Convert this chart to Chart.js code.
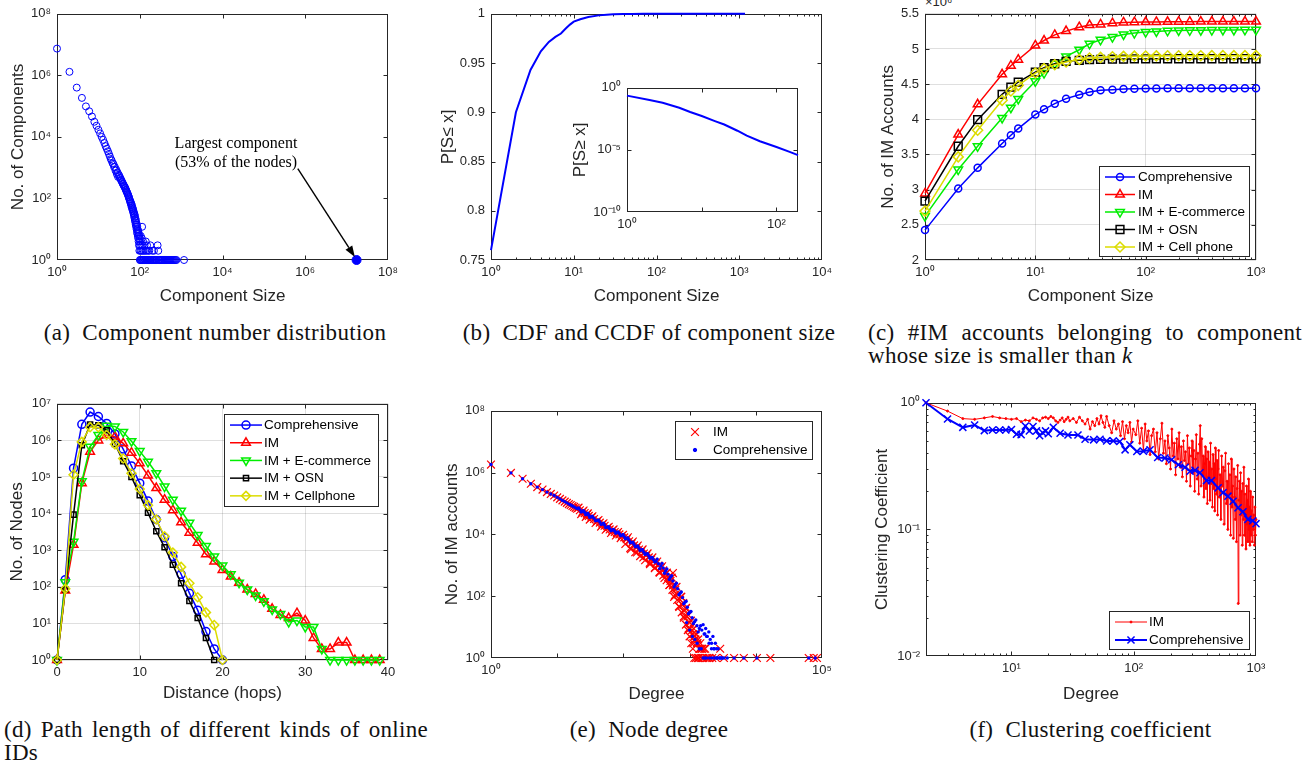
<!DOCTYPE html>
<html>
<head>
<meta charset="utf-8">
<title>Online ID network figure</title>
<script src="https://cdn.jsdelivr.net/npm/chart.js"></script>
<style>
html,body{margin:0;padding:0;background:#fff}
body{position:relative;width:1313px;height:768px;overflow:hidden;font-family:"Liberation Sans",Arial,sans-serif}
.pan{position:absolute}
.pan canvas{display:block}
.cap{position:absolute;font-family:"Liberation Serif","Times New Roman",serif;font-size:23px;line-height:23px;letter-spacing:0.3px;color:#111;white-space:nowrap}
.just{text-align:justify;text-align-last:justify;white-space:normal}
.mult{position:absolute;left:925px;top:-5px;font-size:13px;line-height:13px;color:#262626;font-family:"Liberation Sans",Arial,sans-serif}
</style>
</head>
<body>
<div class="cap" style="left:0;width:430px;top:321px;text-align:center">(a)&nbsp; Component number distribution</div>
<div class="cap" style="left:430px;width:438px;top:321px;text-align:center">(b)&nbsp; CDF and CCDF of component size</div>
<div class="cap just" style="left:868px;width:434px;top:321px">(c) #IM accounts belonging to component</div>
<div class="cap" style="left:868px;top:344px">whose size is smaller than <i>k</i></div>
<div class="cap just" style="left:4px;width:424px;top:718px">(d) Path length of different kinds of online</div>
<div class="cap" style="left:4px;top:741px">IDs</div>
<div class="cap" style="left:430px;width:438px;top:718px;text-align:center">(e)&nbsp; Node degree</div>
<div class="cap" style="left:868px;width:445px;top:718px;text-align:center">(f)&nbsp; Clustering coefficient</div>
<div class="mult">×10⁶</div>
<script>
// ---------- (a) component number distribution ----------
const compSizeA = [1,2,3,4,5,6,7,8,9,10,11,12,13,14,15,16,17,18,19,20,21,22,23,24,25,26,27,28,29,30,31,32,33,34,35,36,37,38,39,40,41,42,43,44,45,46,47,48,49,50,51,52,53,54,55,56,57,58,59,60,61,62,63,64,65,66,67,68,69,70,71,72,73,74,75,76,77,78,79,80,81,82,83,84,85,86,87,88,89,90,91,92,93,94,95,96,97,98,99];
const compCountA = [7400000,1300000,400000,185000,98000,68000,46000,31000,23000,17000,
  13000,10000,8000,6300,5000,4100,3400,2800,2300,1900,
  1700,1400,1330,1050,1060,800,860,620,700,500,
  590,540,470,460,400,390,350,330,300,290,
  265,250,240,220,215,190,185,170,160,150,
  140,130,125,112,108,96,92,84,80,70,
  74,60,66,52,58,45,50,40,44,34,
  38,29,33,24,30,20,26,17,22,14,
  19,12,16,10,14,8,12,7,10,6,
  9,5,8,4,7,3,6,2,5];
const compSizeB = [100,102,104,106,108,110,112,114,116,118,120,125,130,135,140,145,150,160,170,180,200,220,270,280];
const compCountB = [3,4,2,6,3,2,5,12,3,2,4,2,3,2,4,2,3,2,2,3,2,2,3,2];
const compSizeC = [101,103,107,111,115,119,124,128,133,138,143,149,155,161,168,175,182,190,198,207,216,226,236,247,258,283,297,312,328,345,363,382,402,423,446,470,496,523,552,583,616,651,688,727,768,1175];
const compCountC = [1,1,1,1,1,1,1,1,1,1,1,1,1,1,1,1,1,1,1,1,1,1,1,1,1,1,1,1,1,1,1,1,1,1,1,1,1,1,1,1,1,1,1,1,1,1];
const largestSize = [17400000];
const largestCount = [1];
const annoText = ['Largest component', '(53% of the nodes)'];
const annoX = 21200, annoY = [5940, 1450];
const arrowFrom = [660000, 930], arrowTo = [15800000, 1.26];
const aTicks = [1, 1e2, 1e4, 1e6, 1e8];

// ---------- (b) CDF / CCDF ----------
const cdfSize = [1,2,3,4,5,6,7,8,9,10,12,15,20,25,30,40,50,70,100,200,500,1175];
const cdfValue = [0.760,0.900,0.943,0.962,0.9714,0.9765,0.980,0.985,0.989,0.992,0.9945,0.9967,0.9984,0.9991,0.9995,0.9998,0.9999,1,1,1,1,1];
const ccdfSize = [1,2,3,5,7,10,15,20,30,40,60,100,150,194];
const ccdfValue = [0.234,0.105,0.063,0.025,0.0112,0.0054,0.0021,0.0011,0.00035,0.00014,0.00005,0.000017,0.000007,0.0000038];
const bXTicks = [1,10,100,1000,10000];
const bYTicks = [0.75,0.8,0.85,0.9,0.95,1];
const insetXTicks = [1,100];
const insetYTicks = [1e-10,1e-5,1];

// ---------- (c) #IM accounts vs component size (x 10^6) ----------
const cSize = [1,2,3,5,6,7,10,12,15,19,25,31,39,50,63,79,100,125,158,199,251,316,398,501,630,794,1000];
const cComprehensive = [2.425,3.017,3.31,3.655,3.773,3.868,4.067,4.142,4.223,4.294,4.35,4.388,4.412,4.42,4.43,4.435,4.437,4.438,4.44,4.44,4.44,4.441,4.441,4.441,4.442,4.442,4.442];
const cIM = [2.946,3.783,4.213,4.639,4.762,4.847,5.05,5.12,5.2,5.254,5.31,5.34,5.349,5.367,5.377,5.38,5.382,5.384,5.386,5.388,5.388,5.389,5.389,5.39,5.39,5.39,5.39];
const cEcommerce = [2.624,3.286,3.617,4.019,4.166,4.289,4.54,4.658,4.79,4.894,4.989,5.074,5.131,5.169,5.207,5.226,5.24,5.249,5.259,5.263,5.265,5.267,5.268,5.27,5.271,5.272,5.273];
const cOSN = [2.837,3.617,3.995,4.355,4.459,4.53,4.672,4.734,4.79,4.824,4.838,4.847,4.852,4.855,4.857,4.858,4.859,4.86,4.86,4.861,4.861,4.861,4.861,4.861,4.861,4.861,4.861];
const cCellphone = [2.695,3.466,3.844,4.27,4.403,4.483,4.658,4.72,4.777,4.814,4.852,4.871,4.88,4.89,4.895,4.898,4.9,4.902,4.903,4.904,4.904,4.904,4.905,4.905,4.905,4.905,4.905];
const cXTicks = [1,10,100,1000];
const cYTicks = [2,2.5,3,3.5,4,4.5,5,5.5];

// ---------- (d) path length ----------
const dHopsComp = [0,1,2,3,4,5,6,7,8,9,10,11,12,13,14,15,16,17,18,19,20];
const dComprehensive = [1,157,174000,2750000,5960000,4500000,2900000,1500000,580000,200000,68000,22000,6900,2200,670,220,67,23,6,2,1];
const dHopsIM = [0,1,2,3,4,5,6,7,8,9,10,11,12,13,14,15,16,17,18,19,20,21,22,23,24,25,26,27,28,29,30,31,32,33,34,35,36,37,38,39];
const dIM = [1,79,1400,68000,490000,1000000,1380000,1260000,830000,460000,236000,110000,50000,24000,12400,5800,3000,1600,780,490,290,190,130,84,64,44,25,17,14,19,12,4,2,2,3,3,1,1,1,1];
const dEcommerce = [1,133,1700,76000,670000,1400000,2500000,2400000,1700000,950000,510000,260000,127000,55000,24000,12000,5600,2600,1300,670,380,220,130,84,58,40,24,18,11,12,8,8,2,1,1,1,1,1,1,1];
const dHopsOSN = [0,1,2,3,4,5,6,7,8,9,10,11,12,13,14,15,16,17,18,19];
const dOSN = [1,84,9400,740000,2700000,2600000,1900000,800000,270000,100000,32000,10500,3300,1200,400,125,41,14,4,1];
const dHopsCell = [0,1,2,3,4,5,6,7,8,9,10,11,12,13,14,15,16,17,18,19,20];
const dCellphone = [1,88,115000,910000,2300000,2300000,1400000,780000,320000,127000,47000,17000,6900,2400,860,350,125,52,20,9,1];
const dXTicks = [0,10,20,30,40];
const dYTicks = [1,10,100,1e3,1e4,1e5,1e6,1e7];

// ---------- (e) node degree ----------
const eDegIM = [1,2,3,4,5,6,7,8,9,10,11,12,13,14,15,16,17,18,19,20,22,24,26,28,30,33,36,40,44,48,52,57,62,68,74,80,87,95,103,112,
  122,133,145,158,172,187,204,222,242,263,286,311,338,368,400,435,473,514,559,608,661,719,782,850,924,1005,1093,1188,1292,1405,1530,
  130,160,200,250,300,350,400,450,500,550,600,650,700,760,820,880,940,1000,1060,1120,1180,1250,1330,1400,
  740,800,870,950,1040,1150,1250,1350,1450,1550,1650,1800,2000,2200,2500,2900,3300,4700,6600,10400,16600,63000,75000,84000,560];
const eCntIM = [1820000,977000,631000,437000,339000,282000,234000,204000,182000,158000,141000,126000,115000,105000,95500,89100,83200,77600,72400,67600,60300,53700,49000,43700,39800,35500,31600,26900,24000,20900,19100,16200,14500,13200,12000,11000,10000,9000,8000,7000,
  6000,5100,4400,3750,3250,2850,2400,2100,1800,1550,1330,1150,980,817,685,533,406,312,224,161,114,77,53,35,22,14,8,5,3,2,1,
  3300,2600,1800,1200,850,600,470,330,230,160,110,75,45,30,20,12,8,5,3,2,1,1,1,1,
  95,60,40,25,16,9,6,4,3,2,2,1,1,1,1,2,1,1,1,1,1,1,1,1,560];
const eDegIMExtra = [21,23,25,27,29,31,34,38,42,46,50,54,60,65,71,77,83,91,99,107,117,127,139,151,165,179,195,213,232,252,274,298,324,353,384,417,454,493,536,583,634,690,750,816,887,964,1048,1140,1240,1348,1467,
  1020,1120,1220,1320,1420,1520,1620,1720,1850,1950];
const eCntIMExtra = [73400,45500,59000,37000,48000,30100,38500,23300,29200,17900,23000,14100,17600,11100,14500,9200,12000,7600,9700,4900,8100,3600,5900,2640,4360,1980,3270,1460,2430,1090,1800,800,1330,580,935,390,580,230,400,95,200,47,96,22,42,9,16,3,6,1,2,
  9,6,4,3,2,2,1,2,1,1];
const eDegComp = [1,2,3,4,5,6,7,8,9,10,11,12,13,14,15,16,17,18,19,20,22,24,26,28,30,33,36,40,44,48,52,57,62,68,74,80,87,95,103,112,
  122,133,145,158,172,187,204,222,242,263,286,311,338,368,400,435,473,514,559,608,661,719,782,850,924,1005,1093,1188,1292,1405,
  1530,1660,1810,1970,2140,2330,2540,
  900,1000,1100,1200,1300,1400,1500,1600,1700,1800,2000,2200,2400,
  2600,2800,3000,3300,3700,4700,6600,10400,63000,79000];
const eCntComp = [1820000,977000,631000,437000,339000,282000,234000,204000,182000,158000,141000,126000,115000,105000,95500,89100,83200,77600,72400,69200,62500,56000,51000,45800,41700,37200,33100,28200,25100,21900,20000,17000,15200,13900,12600,11600,10500,9500,8500,7500,
  6450,5500,4750,4100,3550,3150,2650,2350,2000,1750,1500,1320,1130,960,820,660,520,410,310,235,175,125,90,64,44,30,20,15,11,9,
  8,6,5,3,2,2,1,
  14,8,5,4,3,2,2,1,1,1,1,1,1,
  1,1,1,1,1,1,1,1,1,1];
const eDegCompExtra = [21,23,25,27,29,31,34,38,42,46,50,54,60,65,71,77,83,91,99,107,117,127,139,151,165,179,195,213,232,252,274,298,324,353,384,417,454,493,536,583,634,690,750,816,887,964,1048,1140,1240,1348,1467,
  1600,1700,1750,1850,1950,2050,2150,2250,2350,2450,2550,2700,2900,3100];
const eCntCompExtra = [72300,53300,58800,43500,48100,35500,38600,27500,29300,21100,23000,16600,17700,13100,14500,10900,12100,9000,9900,7200,7650,5360,5620,3970,4200,3010,3180,2250,2390,1680,1780,1270,1590,780,1150,550,760,350,460,200,264,111,138,57,69,27,32,13,17,7,11,
  12,6,9,5,7,4,3,5,2,3,2,2,1,1];
const eXTicks = [1,10,100,1e3,1e4,1e5];
const eXLabelled = [1,1e5];
const eYTicks = [1,1e2,1e4,1e6,1e8];

// ---------- (f) clustering coefficient ----------
const fDegIM = [2,3,4,5,6,7,8,9,10,11, 12,13,14,15,16,17,18,19,20,21, 22,23,24,25,26,27,28,29,30,32,
  34,36,38,40,42,44,46,48,50,52, 54,56,58,60,63,66,69,72,75,78, 81,84,87,90,93,96,99,104,108,112,
  116,120,124,128,132,136,140,145,150,155, 160,165,170,175,180,185,190,195,200,205, 210,215,220,225,230,235,240,245,250,255,
  260,265,270,275,280,285,290,295,300,305, 310,315,320,325,330,335,340,345,350,355, 360,365,370,375,380,385,390,395,400,405,
  410,415,420,425,430,435,440,445,450,455, 460,465,470,475,480,485,490,495,500,508, 516,524,532,540,548,556,564,572,580,588,
  596,604,612,620,628,636,644,652,660,668, 676,684,692,700,708,716,724,732,740,748, 756,764,772,780,788,796,804,812,820,828,
  836,844,852,860,868,876,884,892,900,910, 920,930,940,950,960,970,980,990,1000];
const fCCIM = [1.0,0.86,0.75,0.74,0.76,0.78,0.76,0.75,0.74,0.75, 0.71,0.73,0.72,0.76,0.74,0.72,0.76,0.77,0.75,0.78, 0.76,0.72,0.70,0.73,0.76,0.71,0.74,0.77,0.72,0.75,
  0.70,0.77,0.72,0.68,0.74,0.62,0.71,0.66,0.75,0.68, 0.79,0.70,0.64,0.78,0.66,0.58,0.72,0.62,0.68,0.55, 0.71,0.52,0.66,0.58,0.70,0.49,0.62,0.56,0.72,0.48,
  0.63,0.42,0.68,0.50,0.60,0.39,0.55,0.62,0.41,0.58, 0.36,0.52,0.69,0.40,0.50,0.33,0.55,0.44,0.30,0.62, 0.38,0.48,0.27,0.52,0.36,0.58,0.31,0.45,0.26,0.50,
  0.35,0.41,0.24,0.55,0.33,0.44,0.22,0.38,0.50,0.28, 0.42,0.20,0.36,0.56,0.25,0.40,0.19,0.47,0.66,0.22, 0.52,0.27,0.38,0.18,0.33,0.45,0.21,0.36,0.16,0.41,
  0.26,0.34,0.17,0.48,0.23,0.30,0.15,0.39,0.21,0.33, 0.14,0.44,0.25,0.19,0.35,0.13,0.30,0.42,0.18,0.27, 0.12,0.38,0.22,0.31,0.11,0.29,0.40,0.16,0.24,0.10,
  0.33,0.19,0.27,0.09,0.36,0.15,0.22,0.085,0.30,0.18, 0.12,0.26,0.08,0.21,0.32,0.026,0.17,0.24,0.09,0.28, 0.13,0.20,0.075,0.23,0.12,0.31,0.09,0.19,0.14,0.07,
  0.22,0.11,0.17,0.08,0.25,0.10,0.15,0.075,0.20,0.09, 0.14,0.08,0.18,0.10,0.13,0.075,0.15,0.09,0.12];
const fDegComp = [2,3,4,5,6,7,8,9,10,11,12,13,14,15,16,17,18,19,20,22,25,29,35,40,47,53,60,68,77,85,93,106,120,136,157,180,204,232,263,289,317,348,394,432,490,538,590,650,713,782,858,941,1000];
const fCCComp = [1.0,0.745,0.64,0.668,0.603,0.61,0.61,0.61,0.615,0.565,0.56,0.655,0.6,0.65,0.6,0.55,0.58,0.6,0.57,0.64,0.575,0.557,0.557,0.515,0.51,0.515,0.5,0.5,0.495,0.425,0.466,0.413,0.415,0.425,0.37,0.366,0.355,0.324,0.31,0.288,0.293,0.28,0.243,0.243,0.213,0.195,0.183,0.167,0.148,0.138,0.12,0.117,0.111];
const fXTicks = [10,100,1000];
const fYTicks = [0.01,0.1,1];

// ================= rendering =================
const FONT = '"Liberation Sans", Arial, sans-serif';
const AX = '#262626';
const GRID = 'rgba(38,38,38,0.15)';
const BLUE = '#0000ff', RED = '#ff0000', GREEN = '#00ee00', BLACK = '#000000', YELLOW = '#dcdc00';
const CLEAR = 'rgba(0,0,0,0)';
const SUP = {'0':'⁰','1':'¹','2':'²','3':'³','4':'⁴','5':'⁵','6':'⁶','7':'⁷','8':'⁸','9':'⁹','-':'⁻'};
const pow10 = v => '10' + String(Math.round(Math.log10(v))).split('').map(c => SUP[c]).join('');
const zip = (xs, ys) => xs.map((x, i) => ({x: x, y: ys[i]}));
function logMinor(min, max) {
  const out = [];
  for (let e = Math.floor(Math.log10(min)); e <= Math.ceil(Math.log10(max)); e++) {
    for (let k = 2; k <= 9; k++) {
      const v = k * Math.pow(10, e);
      if (v >= min * 0.999 && v <= max * 1.001) out.push(v);
    }
  }
  return out;
}
const EXTRA = {};

function drawMarker(ctx, ds, x, y) {
  const H = Chart.helpers;
  ctx.save();
  ctx.strokeStyle = ds.pointBorderColor || ds.borderColor;
  ctx.fillStyle = ds.pointBackgroundColor || CLEAR;
  ctx.lineWidth = ds.pointBorderWidth || 1;
  if (H && H.drawPoint) {
    H.drawPoint(ctx, {pointStyle: ds.pointStyle || 'circle', rotation: ds.pointRotation || 0, radius: ds.pointRadius, borderWidth: ds.pointBorderWidth || 1}, x, y);
  } else {
    ctx.beginPath(); ctx.arc(x, y, ds.pointRadius, 0, Math.PI * 2); ctx.fill(); ctx.stroke();
  }
  ctx.restore();
}

const mAxes = {
  id: 'mAxes',
  beforeDraw(chart) {
    const ex = EXTRA[chart.canvas.id]; if (!ex || !ex.fill) return;
    const a = chart.chartArea, ctx = chart.ctx;
    ctx.save(); ctx.fillStyle = '#fff'; ctx.fillRect(a.left, a.top, a.right - a.left, a.bottom - a.top); ctx.restore();
  },
  beforeDatasetsDraw(chart) {
    const ex = EXTRA[chart.canvas.id]; if (!ex) return;
    const a = chart.chartArea, ctx = chart.ctx, xs = chart.scales.x, ys = chart.scales.y;
    const L = Math.round(a.left) + 0.5, R = Math.round(a.right) - 0.5, T = Math.round(a.top) + 0.5, B = Math.round(a.bottom) - 0.5;
    ctx.save();
    ctx.strokeStyle = AX; ctx.lineWidth = 1;
    ctx.strokeRect(L, T, R - L, B - T);
    const tx = (vals, len) => (vals || []).forEach(v => {
      const p = Math.round(xs.getPixelForValue(v)) + 0.5;
      if (p < L - 0.6 || p > R + 0.6) return;
      ctx.beginPath(); ctx.moveTo(p, B); ctx.lineTo(p, B - len); ctx.moveTo(p, T); ctx.lineTo(p, T + len); ctx.stroke();
    });
    const ty = (vals, len) => (vals || []).forEach(v => {
      const p = Math.round(ys.getPixelForValue(v)) + 0.5;
      if (p < T - 0.6 || p > B + 0.6) return;
      ctx.beginPath(); ctx.moveTo(L, p); ctx.lineTo(L + len, p); ctx.moveTo(R, p); ctx.lineTo(R - len, p); ctx.stroke();
    });
    tx(ex.xMajor, 4); tx(ex.xMinor, 2); ty(ex.yMajor, 4); ty(ex.yMinor, 2);
    ctx.restore();
  },
  afterDraw(chart) {
    const ex = EXTRA[chart.canvas.id]; if (!ex) return;
    const a = chart.chartArea, ctx = chart.ctx;
    if (ex.anno) {
      const A = ex.anno, xs = chart.scales.x, ys = chart.scales.y;
      ctx.save();
      ctx.fillStyle = '#000'; ctx.font = '16px "Liberation Serif", "Times New Roman", serif';
      ctx.textAlign = 'center'; ctx.textBaseline = 'middle';
      A.lines.forEach((t, i) => ctx.fillText(t, xs.getPixelForValue(A.x), ys.getPixelForValue(A.ys[i])));
      const x0 = xs.getPixelForValue(A.from[0]), y0 = ys.getPixelForValue(A.from[1]);
      const x1 = xs.getPixelForValue(A.to[0]), y1 = ys.getPixelForValue(A.to[1]);
      const d = Math.hypot(x1 - x0, y1 - y0), ux = (x1 - x0) / d, uy = (y1 - y0) / d;
      const hl = 11, hw = 4;
      ctx.strokeStyle = '#000'; ctx.lineWidth = 1.4;
      ctx.beginPath(); ctx.moveTo(x0, y0); ctx.lineTo(x1 - ux * hl, y1 - uy * hl); ctx.stroke();
      ctx.beginPath(); ctx.moveTo(x1, y1);
      ctx.lineTo(x1 - ux * hl - uy * hw, y1 - uy * hl + ux * hw);
      ctx.lineTo(x1 - ux * hl + uy * hw, y1 - uy * hl - ux * hw);
      ctx.closePath(); ctx.fill();
      ctx.restore();
    }
    if (ex.legend) {
      const lg = ex.legend;
      const bx = Math.round(a.right - lg.dx - lg.w);
      const by = Math.round(lg.anchor === 'top' ? a.top + lg.dy : a.bottom - lg.dy - lg.h);
      ctx.save();
      ctx.fillStyle = '#fff'; ctx.fillRect(bx, by, lg.w, lg.h);
      ctx.strokeStyle = AX; ctx.lineWidth = 1; ctx.strokeRect(bx + 0.5, by + 0.5, lg.w, lg.h);
      ctx.font = '13.5px ' + FONT; ctx.textBaseline = 'middle'; ctx.textAlign = 'left';
      let row = 0;
      chart.data.datasets.forEach(ds => {
        if (!ds.label || ds.legendSkip) return;
        const y = by + lg.pad + lg.rowH * (row + 0.5);
        row++;
        if (ds.showLine) {
          ctx.save(); ctx.strokeStyle = ds.borderColor; ctx.lineWidth = ds.borderWidth;
          ctx.beginPath(); ctx.moveTo(bx + lg.l0, y); ctx.lineTo(bx + lg.l1, y); ctx.stroke(); ctx.restore();
        }
        drawMarker(ctx, ds, bx + (lg.l0 + lg.l1) / 2, y);
        ctx.fillStyle = '#000'; ctx.fillText(ds.label, bx + lg.tx, y + 0.5);
      });
      ctx.restore();
    }
  }
};
Chart.register(mAxes);

function panel(id, g, datasets, xs, ys, extra) {
  const fs = 17;
  const left = Math.round(g.yt - 0.6 * fs);
  const top = g.T - g.pt;
  const right = g.R + g.pr;
  const bottom = g.xt != null ? Math.round(g.xt + 0.6 * fs) : g.B + g.xh;
  const div = document.createElement('div');
  div.className = 'pan';
  div.style.left = left + 'px'; div.style.top = top + 'px';
  div.style.width = (right - left) + 'px'; div.style.height = (bottom - top) + 'px';
  const cv = document.createElement('canvas'); cv.id = id;
  div.appendChild(cv); document.body.appendChild(div);
  EXTRA[id] = extra;
  const mk = (s, isX) => ({
    type: s.type, position: isX ? 'bottom' : 'left', min: s.min, max: s.max,
    afterBuildTicks: sc => { sc.ticks = s.labels.map(v => ({value: v})); },
    afterFit: sc => { if (isX) sc.height = bottom - g.B; else sc.width = g.L - left; },
    ticks: {autoSkip: false, maxRotation: 0, minRotation: 0, padding: isX ? 5 : 6, color: AX,
            font: {family: FONT, size: 13}, callback: s.fmt},
    grid: {display: !!s.grid, color: GRID, lineWidth: 1, drawTicks: false, drawOnChartArea: true},
    border: {display: false},
    title: {display: !!s.title, text: s.title || '', color: AX, font: {family: FONT, size: fs}, padding: 0}
  });
  return new Chart(cv, {
    type: 'scatter',
    data: {datasets: datasets},
    options: {
      responsive: true, maintainAspectRatio: false, animation: false, devicePixelRatio: 1, events: [],
      layout: {padding: {top: g.pt, right: g.pr, left: 0, bottom: 0}},
      plugins: {legend: {display: false}, tooltip: {enabled: false}},
      scales: {x: mk(xs, true), y: mk(ys, false)}
    }
  });
}

function lineDs(label, xs, ys, color, style, radius, extra) {
  return Object.assign({
    label: label, data: zip(xs, ys), showLine: true, borderColor: color, backgroundColor: color,
    borderWidth: 1.5, pointStyle: style, pointRadius: radius, pointBorderWidth: 1.5,
    pointBorderColor: color, pointBackgroundColor: CLEAR, pointRotation: 0, clip: false
  }, extra || {});
}
const fmtNum = v => String(+Number(v).toFixed(2));

// (a)
panel('pa', {L: 57, T: 12, R: 388, B: 260, yt: 18, xt: 297, pt: 12, pr: 20}, [
  {label: 'big', data: zip(largestSize, largestCount), pointStyle: 'circle', pointRadius: 4.5, pointBorderWidth: 1,
   pointBorderColor: BLUE, pointBackgroundColor: BLUE, borderColor: BLUE, clip: false},
  {label: 'a1', data: zip(compSizeA, compCountA), pointStyle: 'circle', pointRadius: 3.5, pointBorderWidth: 1,
   pointBorderColor: BLUE, pointBackgroundColor: CLEAR, borderColor: BLUE, clip: false},
  {label: 'a2', data: zip(compSizeB, compCountB), pointStyle: 'circle', pointRadius: 3.5, pointBorderWidth: 1,
   pointBorderColor: BLUE, pointBackgroundColor: CLEAR, borderColor: BLUE, clip: false},
  {label: 'a3', data: zip(compSizeC, compCountC), pointStyle: 'circle', pointRadius: 3.5, pointBorderWidth: 1,
   pointBorderColor: BLUE, pointBackgroundColor: CLEAR, borderColor: BLUE, clip: false}
], {type: 'logarithmic', min: 1, max: 1e8, labels: aTicks, fmt: pow10, title: 'Component Size'},
   {type: 'logarithmic', min: 1, max: 1e8, labels: aTicks, fmt: pow10, title: 'No. of Components'},
   {xMajor: aTicks, yMajor: aTicks, anno: {lines: annoText, x: annoX, ys: annoY, from: arrowFrom, to: arrowTo}});

// (b)
panel('pb', {L: 491, T: 12, R: 822, B: 260, yt: 448, xt: 297, pt: 12, pr: 20}, [
  {label: 'CDF', data: zip(cdfSize, cdfValue), showLine: true, borderColor: BLUE, borderWidth: 2, pointRadius: 0, clip: false}
], {type: 'logarithmic', min: 1, max: 1e4, labels: bXTicks, fmt: pow10, title: 'Component Size'},
   {type: 'linear', min: 0.75, max: 1, labels: bYTicks, fmt: fmtNum, title: 'P[S≤ x]'},
   {xMajor: bXTicks, xMinor: logMinor(1, 1e4), yMajor: bYTicks});

// (b) inset
panel('pbi', {L: 627, T: 84, R: 798, B: 212, yt: 580, xt: null, xh: 28, pt: 10, pr: 14}, [
  {label: 'CCDF', data: zip(ccdfSize, ccdfValue), showLine: true, borderColor: BLUE, borderWidth: 2, pointRadius: 0, clip: false}
], {type: 'logarithmic', min: 1, max: 194, labels: insetXTicks, fmt: pow10},
   {type: 'logarithmic', min: 1e-10, max: 1, labels: insetYTicks, fmt: pow10, title: 'P[S≥ x]'},
   {xMajor: [1, 10, 100], yMajor: insetYTicks, fill: true});

// (c)
panel('pc', {L: 925, T: 13, R: 1256, B: 260, yt: 888, xt: 297, pt: 13, pr: 20}, [
  lineDs('Comprehensive', cSize, cComprehensive, BLUE, 'circle', 3.5, {order: 5}),
  lineDs('IM', cSize, cIM, RED, 'triangle', 5, {order: 4}),
  lineDs('IM + E-commerce', cSize, cEcommerce, GREEN, 'triangle', 5, {order: 3, pointRotation: 180}),
  lineDs('IM + OSN', cSize, cOSN, BLACK, 'rect', 5.5, {order: 2}),
  lineDs('IM + Cell phone', cSize, cCellphone, YELLOW, 'rectRot', 5, {order: 1})
], {type: 'logarithmic', min: 1, max: 1000, labels: cXTicks, fmt: pow10, title: 'Component Size', grid: true},
   {type: 'linear', min: 2, max: 5.5, labels: cYTicks, fmt: fmtNum, title: 'No. of IM Accounts', grid: true},
   {xMajor: cXTicks, xMinor: logMinor(1, 1000), yMajor: cYTicks,
    legend: {anchor: 'bottom', dx: 7, dy: 4, w: 150, h: 90, pad: 2.25, rowH: 17.5, l0: 6, l1: 36, tx: 39}});

// (d)
panel('pd', {L: 57, T: 402, R: 388, B: 660, yt: 17, xt: 694, pt: 12, pr: 20}, [
  lineDs('Comprehensive', dHopsComp, dComprehensive, BLUE, 'circle', 4, {order: 5}),
  lineDs('IM', dHopsIM, dIM, RED, 'triangle', 5, {order: 4}),
  lineDs('IM + E-commerce', dHopsIM, dEcommerce, GREEN, 'triangle', 5, {order: 3, pointRotation: 180}),
  lineDs('IM + OSN', dHopsOSN, dOSN, BLACK, 'rect', 3.6, {order: 2}),
  lineDs('IM + Cellphone', dHopsCell, dCellphone, YELLOW, 'rectRot', 4.5, {order: 1})
], {type: 'linear', min: 0, max: 40, labels: dXTicks, fmt: v => String(v), title: 'Distance (hops)', grid: true},
   {type: 'logarithmic', min: 1, max: 1e7, labels: dYTicks, fmt: pow10, title: 'No. of Nodes', grid: true},
   {xMajor: dXTicks, yMajor: dYTicks,
    legend: {anchor: 'top', dx: 10, dy: 10, w: 154, h: 92, pad: 2.2, rowH: 17.7, l0: 6, l1: 38, tx: 40}});

// (e)
panel('pe', {L: 491, T: 409, R: 822, B: 658, yt: 452, xt: 695, pt: 12, pr: 20}, [
  {label: 'IM', data: zip(eDegIM.concat(eDegIMExtra), eCntIM.concat(eCntIMExtra)), pointStyle: 'crossRot', pointRadius: 5.5, pointBorderWidth: 1.2,
   pointBorderColor: RED, pointBackgroundColor: CLEAR, borderColor: RED, clip: false, order: 2},
  {label: 'Comprehensive', data: zip(eDegComp.concat(eDegCompExtra), eCntComp.concat(eCntCompExtra)), pointStyle: 'circle', pointRadius: 1.7, pointBorderWidth: 0,
   pointBorderColor: BLUE, pointBackgroundColor: BLUE, borderColor: BLUE, clip: false, order: 1}
], {type: 'logarithmic', min: 1, max: 1e5, labels: eXLabelled, fmt: pow10, title: 'Degree'},
   {type: 'logarithmic', min: 1, max: 1e8, labels: eYTicks, fmt: pow10, title: 'No. of IM accounts'},
   {xMajor: eXTicks, yMajor: eYTicks,
    legend: {anchor: 'top', dx: 10, dy: 10, w: 137, h: 38, pad: 2, rowH: 18, l0: 20, l1: 20, tx: 38}});

// (f)
panel('pf', {L: 926, T: 401, R: 1256, B: 656, yt: 882, xt: 695, pt: 12, pr: 20}, [
  {label: 'IM', data: zip(fDegIM, fCCIM), showLine: true, borderColor: RED, borderWidth: 1, pointStyle: 'circle',
   pointRadius: 1, pointBorderWidth: 1, pointBorderColor: RED, pointBackgroundColor: RED, clip: false, order: 2},
  {label: 'Comprehensive', data: zip(fDegComp, fCCComp), showLine: true, borderColor: BLUE, borderWidth: 2, pointStyle: 'crossRot',
   pointRadius: 5, pointBorderWidth: 1.5, pointBorderColor: BLUE, pointBackgroundColor: CLEAR, clip: false, order: 1}
], {type: 'logarithmic', min: 2, max: 1000, labels: fXTicks, fmt: pow10, title: 'Degree'},
   {type: 'logarithmic', min: 0.01, max: 1, labels: fYTicks, fmt: pow10, title: 'Clustering Coefficient'},
   {xMajor: fXTicks, xMinor: logMinor(2, 1000), yMajor: fYTicks, yMinor: logMinor(0.01, 1),
    legend: {anchor: 'bottom', dx: 7, dy: 7, w: 140, h: 38, pad: 2, rowH: 18, l0: 6, l1: 38, tx: 40}});
</script>
</body>
</html>
